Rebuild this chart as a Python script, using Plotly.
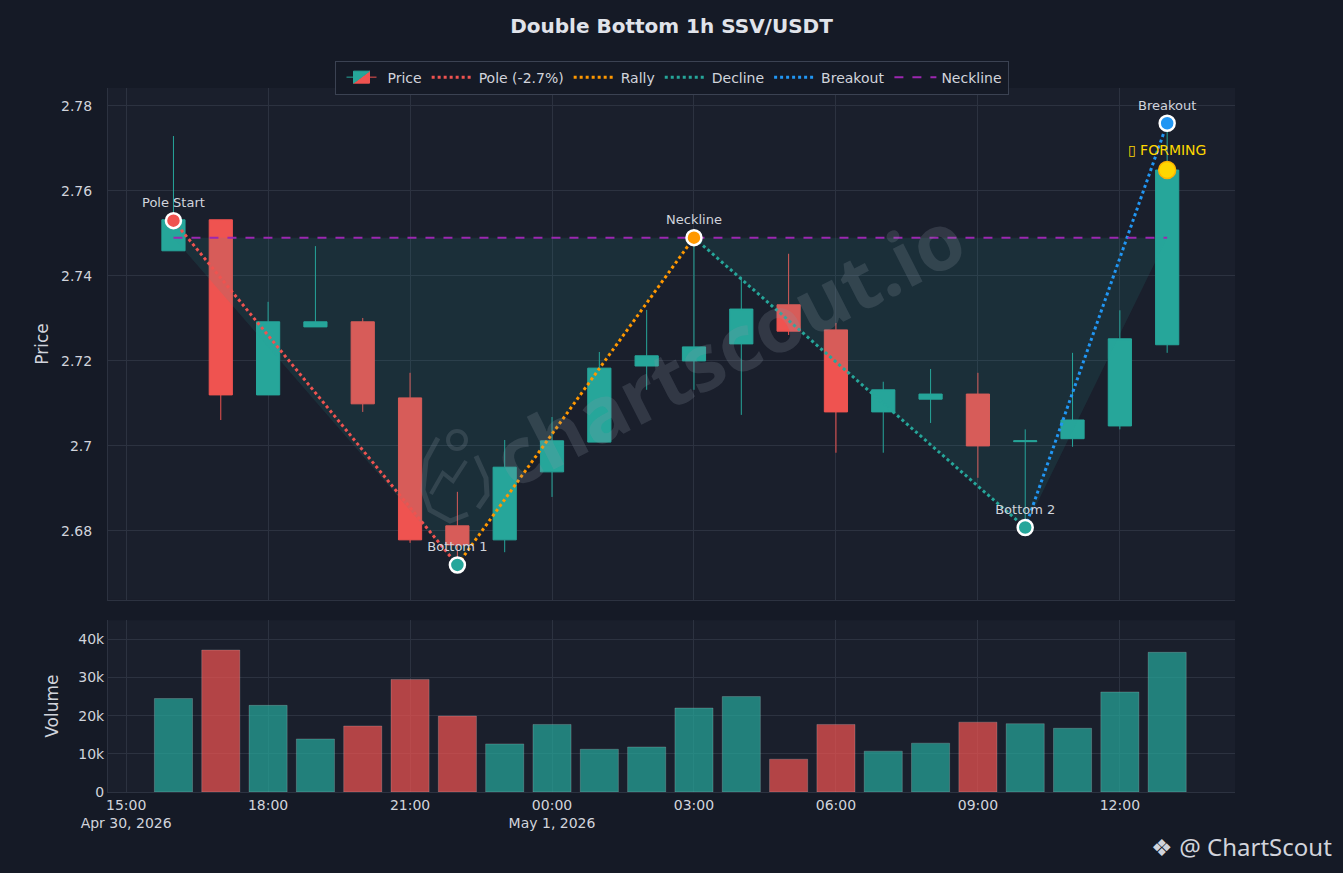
import plotly.graph_objects as go
from plotly.subplots import make_subplots

# hourly candles, SSV/USDT
times = [
    "2026-04-30 16:00", "2026-04-30 17:00", "2026-04-30 18:00", "2026-04-30 19:00",
    "2026-04-30 20:00", "2026-04-30 21:00", "2026-04-30 22:00", "2026-04-30 23:00",
    "2026-05-01 00:00", "2026-05-01 01:00", "2026-05-01 02:00", "2026-05-01 03:00",
    "2026-05-01 04:00", "2026-05-01 05:00", "2026-05-01 06:00", "2026-05-01 07:00",
    "2026-05-01 08:00", "2026-05-01 09:00", "2026-05-01 10:00", "2026-05-01 11:00",
    "2026-05-01 12:00", "2026-05-01 13:00",
]
opens = [2.7459, 2.7532, 2.7120, 2.7280, 2.7292, 2.7113, 2.6812, 2.6779,
         2.6939, 2.7009, 2.7188, 2.7200, 2.7240, 2.7332, 2.7273, 2.7080,
         2.7110, 2.7122, 2.7010, 2.7017, 2.7047, 2.7238]
highs = [2.7729, 2.7532, 2.7339, 2.7470, 2.7301, 2.7172, 2.6892, 2.7014,
         2.7068, 2.7221, 2.7320, 2.7492, 2.7398, 2.7452, 2.7289, 2.7151,
         2.7181, 2.7172, 2.7039, 2.7219, 2.7319, 2.7759]
lows = [2.7459, 2.7061, 2.7120, 2.7280, 2.7080, 2.6772, 2.6720, 2.6750,
        2.6880, 2.7009, 2.7132, 2.7132, 2.7073, 2.7261, 2.6984, 2.6984,
        2.7054, 2.6925, 2.6808, 2.6998, 2.7039, 2.7219]
closes = [2.7532, 2.7120, 2.7292, 2.7292, 2.7099, 2.6779, 2.6767, 2.6950,
          2.7012, 2.7183, 2.7212, 2.7233, 2.7322, 2.7270, 2.7080, 2.7132,
          2.7122, 2.7000, 2.7012, 2.7061, 2.7252, 2.7649]
volumes = [24500, 37200, 22700, 13900, 17300, 29500, 19900, 12600,
           17700, 11200, 11800, 22000, 25000, 8600, 17700, 10700,
           12800, 18300, 17900, 16700, 26200, 36600]

# pattern points
pole_start = ("2026-04-30 16:00", 2.7530)
bottom1 = ("2026-04-30 22:00", 2.6720)
neck_peak = ("2026-05-01 03:00", 2.7490)
bottom2 = ("2026-05-01 10:00", 2.6808)
breakout = ("2026-05-01 13:00", 2.7759)
forming = ("2026-05-01 13:00", 2.7649)
neckline = 2.749

UP = "#26a69a"
DOWN = "#ef5350"
PAPER = "#151a26"
PLOT = "#1a1f2c"
GRID = "#2c3240"
TXT = "#d1d4dc"
WM = "rgba(140,150,165,0.21)"

fig = make_subplots(rows=2, cols=1, shared_xaxes=True, vertical_spacing=0.03,
                    row_heights=[0.75, 0.25])

fig.add_trace(go.Candlestick(
    x=times, open=opens, high=highs, low=lows, close=closes, name="Price",
    increasing=dict(line=dict(color=UP, width=1), fillcolor=UP),
    decreasing=dict(line=dict(color=DOWN, width=1), fillcolor=DOWN),
    whiskerwidth=0,
), row=1, col=1)

# shaded pattern area
fig.add_trace(go.Scatter(
    x=[pole_start[0], bottom1[0], neck_peak[0], bottom2[0], breakout[0], pole_start[0]],
    y=[neckline, bottom1[1], neckline, bottom2[1], neckline, neckline],
    fill="toself", fillcolor="rgba(38,166,154,0.12)", line=dict(width=0),
    mode="lines", showlegend=False, hoverinfo="skip",
), row=1, col=1)

legs = [
    ("Pole (-2.7%)", pole_start, bottom1, DOWN),
    ("Rally", bottom1, neck_peak, "#ff9800"),
    ("Decline", neck_peak, bottom2, UP),
    ("Breakout", bottom2, breakout, "#2196f3"),
]
for name, a, b, col in legs:
    fig.add_trace(go.Scatter(
        x=[a[0], b[0]], y=[a[1], b[1]], mode="lines", name=name,
        line=dict(color=col, width=3, dash="dot"),
    ), row=1, col=1)

fig.add_trace(go.Scatter(
    x=[times[0], times[-1]], y=[neckline, neckline], mode="lines", name="Neckline",
    line=dict(color="#9c27b0", width=2, dash="dash"),
), row=1, col=1)

points = [
    ("Pole Start", pole_start, DOWN),
    ("Bottom 1", bottom1, UP),
    ("Neckline", neck_peak, "#ff9800"),
    ("Bottom 2", bottom2, UP),
    ("Breakout", breakout, "#2196f3"),
]
for label, p, col in points:
    fig.add_trace(go.Scatter(
        x=[p[0]], y=[p[1]], mode="markers+text", text=[label],
        textposition="top center", textfont=dict(color=TXT, size=13),
        marker=dict(color=col, size=15, line=dict(color="white", width=2.5)),
        showlegend=False, hoverinfo="skip",
    ), row=1, col=1)

fig.add_trace(go.Scatter(
    x=[forming[0]], y=[forming[1]], mode="markers+text", text=["▯ FORMING"],
    textposition="top center", textfont=dict(color="#ffd700", size=14),
    marker=dict(color="#ffd700", size=17, line=dict(color="#ffb300", width=1.5)),
    showlegend=False, hoverinfo="skip",
), row=1, col=1)

vol_colors = ["rgba(38,166,154,0.72)" if c >= o else "rgba(239,83,80,0.72)"
              for o, c in zip(opens, closes)]
fig.add_trace(go.Bar(
    x=times, y=volumes, marker=dict(color=vol_colors, line=dict(color="rgba(255,255,255,0.18)", width=1)),
    width=2.9e6, showlegend=False, name="Volume",
), row=2, col=1)

axis_common = dict(gridcolor=GRID, linecolor=GRID, zeroline=False,
                   tickfont=dict(color=TXT, size=14))
fig.update_xaxes(**axis_common, rangeslider_visible=False,
                 range=["2026-04-30 14:37", "2026-05-01 14:26"],
                 dtick=3 * 3600 * 1000, tick0="2026-04-30 00:00")
fig.update_xaxes(showticklabels=False, row=1, col=1)
fig.update_yaxes(**axis_common)
fig.update_yaxes(title=dict(text="Price", font=dict(color=TXT, size=17), standoff=8),
                 range=[2.6638, 2.7842], dtick=0.02, ticklabelstandoff=12, row=1, col=1)
fig.update_yaxes(title=dict(text="Volume", font=dict(color=TXT, size=17)),
                 range=[0, 45000], dtick=10000, tickformat="~s", row=2, col=1)


# watermark logo, drawn in page pixels converted to paper coords
def px(x, y):
    return (x - 108) / 1127, (792 - y) / 704


def path(pts):
    return "M " + " L ".join("%.4f,%.4f" % px(x, y) for x, y in pts)


cx0, cy0 = px(448, 449)
cx1, cy1 = px(466, 431)
logo = [
    dict(type="circle", xref="paper", yref="paper", x0=cx0, y0=cy0, x1=cx1, y1=cy1,
         line=dict(color=WM, width=4)),
    dict(type="path", xref="paper", yref="paper", line=dict(color=WM, width=5),
         path=path([(438, 438), (426, 460), (423, 490), (430, 510), (450, 521), (468, 514)])),
    dict(type="path", xref="paper", yref="paper", line=dict(color=WM, width=5),
         path=path([(476, 456), (486, 478), (487, 495), (478, 508)])),
    dict(type="path", xref="paper", yref="paper", line=dict(color=WM, width=4),
         path=path([(431, 494), (443, 473), (453, 481), (466, 461)])),
]

fig.update_layout(
    width=1343, height=873,
    paper_bgcolor=PAPER, plot_bgcolor=PLOT,
    font=dict(family="DejaVu Sans", color=TXT),
    margin=dict(l=108, r=108, t=88, b=81),
    title=dict(text="<b>Double Bottom 1h SSV/USDT</b>", x=0.5, xanchor="center",
               y=0.97, yanchor="middle", font=dict(size=20, color="#e0e3ea")),
    legend=dict(orientation="h", x=0.5, xanchor="center", y=1.039, yanchor="top",
                bgcolor=PAPER, bordercolor="#3b4252", borderwidth=1, itemwidth=42,
                font=dict(size=14, color=TXT)),
    xaxis=dict(domain=[0, 1]),
    yaxis=dict(domain=[0.273, 1]),
    yaxis2=dict(domain=[0, 0.244]),
    shapes=logo,
    annotations=[
        dict(text="<b>chartscout.io</b>", xref="paper", yref="paper", x=0.55, y=0.632,
             showarrow=False, textangle=-27,
             font=dict(family="Open Sans", size=78, color=WM)),
        dict(text="❖ @ ChartScout", xref="paper", yref="paper", x=1.088, y=-0.078,
             xanchor="right", yanchor="middle", showarrow=False,
             font=dict(family="Noto Sans", size=24, color=TXT)),
    ],
)

fig.write_html("out.html", config={"displayModeBar": False},
               post_script="document.body.style.margin='0';")
